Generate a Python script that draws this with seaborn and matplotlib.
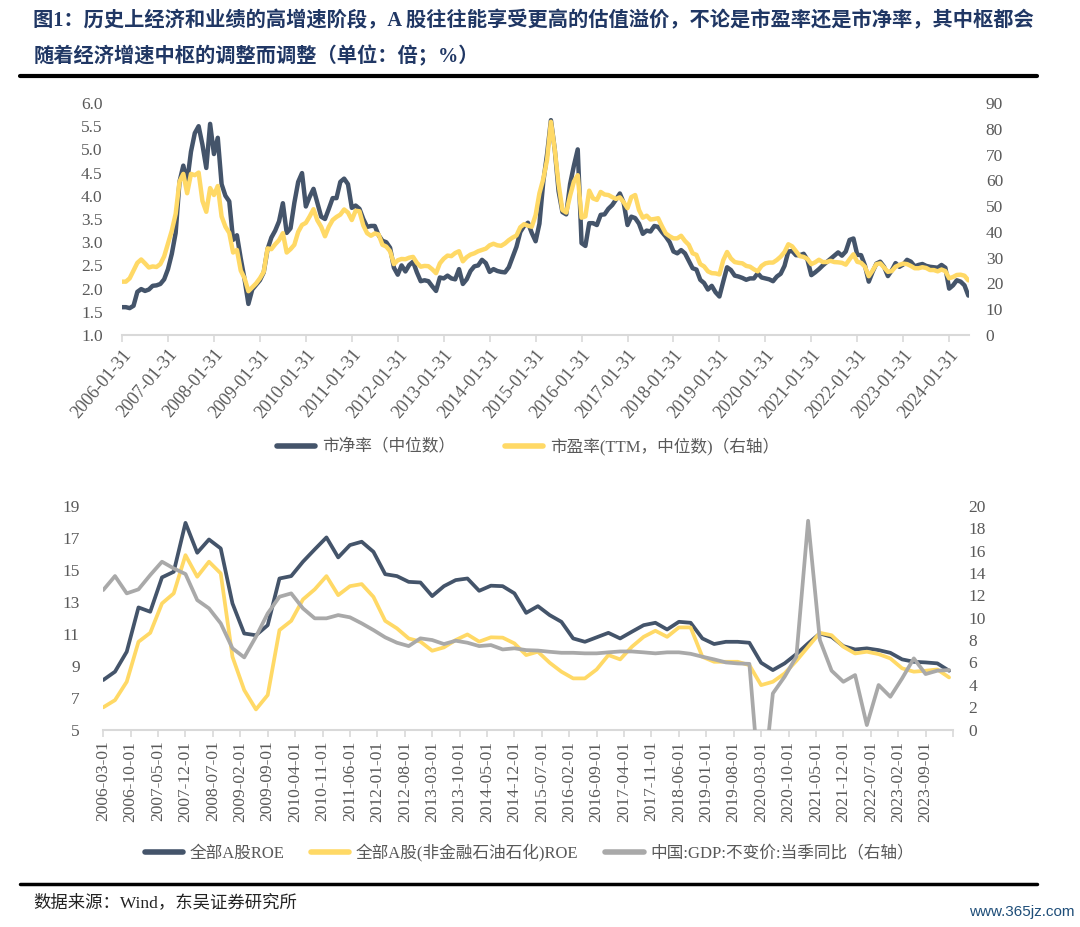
import numpy as np
import pandas as pd
import matplotlib
matplotlib.use("Agg")
import matplotlib.pyplot as plt
import seaborn as sns
from matplotlib.lines import Line2D

# --- top panel: monthly medians, 2006-01 .. 2024-06 ---
pb_median = [
    1.60, 1.60, 1.58, 1.63, 1.93, 1.99, 1.95, 1.98, 2.06, 2.07, 2.10, 2.20,
    2.42, 2.75, 3.20, 4.30, 4.65, 4.30, 4.95, 5.35, 5.50, 5.10, 4.60, 5.55,
    4.90, 5.25, 4.25, 4.00, 3.88, 3.05, 3.15, 2.65, 2.20, 1.67, 1.98, 2.08,
    2.18, 2.35, 2.85, 3.10, 3.25, 3.45, 3.84, 3.20, 3.30, 3.85, 4.30, 4.49,
    3.77, 3.98, 4.15, 3.85, 3.55, 3.50, 3.72, 3.95, 3.95, 4.30, 4.37, 4.25,
    3.74, 3.79, 3.72, 3.50, 3.33, 3.35, 3.35, 3.15, 3.03, 3.00, 2.88, 2.45,
    2.30, 2.50, 2.37, 2.51, 2.58, 2.35, 2.16, 2.18, 2.16, 2.05, 1.95, 2.24,
    2.22, 2.28, 2.22, 2.20, 2.42, 2.10, 2.20, 2.38, 2.48, 2.50, 2.62, 2.55,
    2.36, 2.42, 2.38, 2.36, 2.35, 2.46, 2.68, 2.90, 3.22, 3.35, 3.42, 3.20,
    3.02, 3.40, 4.30, 4.90, 5.63, 5.00, 4.10, 3.65, 3.60, 4.25, 4.65, 5.00,
    2.98, 2.92, 3.41, 3.41, 3.37, 3.59, 3.60, 3.72, 3.80, 3.92, 4.05, 3.85,
    3.37, 3.55, 3.52, 3.40, 3.18, 3.25, 3.23, 3.35, 3.33, 3.22, 3.12, 3.00,
    2.80, 2.76, 2.83, 2.76, 2.60, 2.44, 2.41, 2.19, 2.12, 1.98, 2.06, 1.92,
    1.83, 2.15, 2.46, 2.40, 2.28, 2.26, 2.23, 2.19, 2.22, 2.22, 2.33, 2.24,
    2.22, 2.20, 2.16, 2.26, 2.32, 2.49, 2.80, 2.81, 2.72, 2.72, 2.75, 2.62,
    2.29, 2.35, 2.42, 2.50, 2.57, 2.64, 2.71, 2.78, 2.71, 2.80, 3.05, 3.08,
    2.73, 2.72, 2.50, 2.15, 2.36, 2.54, 2.58, 2.47, 2.27, 2.39, 2.55, 2.47,
    2.52, 2.62, 2.58, 2.48, 2.51, 2.53, 2.49, 2.47, 2.46, 2.45, 2.51, 2.45,
    2.00, 2.07, 2.18, 2.15, 2.07, 1.85,
]
pe_median = [
    20.7, 20.7, 22.0, 25.0, 28.0, 29.3, 27.8, 26.2, 26.6, 26.4, 27.5, 30.5,
    35.5, 40.5, 47.0, 59.5, 62.5, 55.0, 62.5, 62.0, 63.0, 52.0, 47.8, 57.0,
    54.3, 57.8, 46.0, 42.0, 39.6, 32.0, 33.0, 25.0, 22.0, 17.0, 18.5, 20.0,
    22.0, 24.5, 33.6, 33.3, 35.2, 36.8, 39.5, 32.0, 33.3, 35.0, 40.0, 42.7,
    43.5, 46.0, 48.8, 44.5, 42.0, 38.3, 42.0, 44.6, 45.8, 46.7, 48.7, 47.5,
    44.6, 48.2, 48.0, 42.5, 39.5, 38.5, 39.4, 39.0, 35.0, 34.3, 32.5, 27.5,
    29.0, 29.5, 29.4, 30.0, 30.3, 28.0, 26.5, 26.8, 26.7, 25.5, 24.0, 27.8,
    29.6, 30.8, 30.6, 31.8, 32.5, 28.6, 30.2, 31.2, 31.7, 32.5, 33.0, 33.5,
    34.8, 35.4, 34.8, 34.6, 35.5, 36.8, 37.8, 38.6, 41.8, 43.0, 42.4, 42.0,
    46.5, 55.0, 60.5, 68.0, 82.7, 72.0, 58.5, 48.5, 47.5, 54.0, 59.5, 62.0,
    45.5, 46.0, 56.0, 53.0, 52.4, 55.5, 54.5, 54.3, 53.5, 52.8, 53.4, 51.5,
    49.2, 53.5, 54.3, 48.5, 45.5, 46.3, 44.8, 45.0, 45.3, 42.2, 39.4, 38.3,
    37.5, 37.5, 38.5, 36.5, 35.0, 31.7, 31.1, 27.5, 26.6, 24.7, 24.0, 23.9,
    23.5, 29.0, 32.2, 29.7, 28.3, 28.0, 27.8, 26.8, 26.5, 25.5, 24.7, 26.8,
    27.8, 28.1, 28.1, 29.1, 30.4, 32.2, 35.2, 34.4, 32.5, 30.6, 30.3, 29.5,
    27.5, 28.2, 29.2, 28.3, 28.3, 28.8, 28.3, 28.2, 28.0, 27.3, 29.4, 31.3,
    28.4, 28.0, 26.5, 22.8, 25.0, 27.5, 27.8, 26.2, 24.5, 24.8, 26.5, 27.2,
    27.7, 27.5, 26.8, 25.9, 25.9, 26.3, 26.0, 25.2, 25.2, 24.7, 25.4, 24.8,
    22.0, 22.5, 23.3, 23.4, 23.0, 21.2,
]
top_tick_labels = [
    "2006-01-31", "2007-01-31", "2008-01-31", "2009-01-31", "2010-01-31",
    "2011-01-31", "2012-01-31", "2013-01-31", "2014-01-31", "2015-01-31",
    "2016-01-31", "2017-01-31", "2018-01-31", "2019-01-31", "2020-01-31",
    "2021-01-31", "2022-01-31", "2023-01-31", "2024-01-31",
]

# --- bottom panel: quarterly, 2006-03 .. 2024-03 ---
roe_all = [
    8.10, 8.62, 9.87, 12.64, 12.37, 14.52, 14.87, 17.93, 16.06, 16.89, 16.33, 12.89,
    11.01, 10.90, 11.53, 14.45, 14.60, 15.50, 16.27, 17.02, 15.77, 16.54, 16.75, 16.12,
    14.72, 14.60, 14.24, 14.20, 13.35, 13.97, 14.35, 14.45, 13.68, 14.00, 13.97, 13.52,
    12.30, 12.72, 12.16, 11.74, 10.70, 10.49, 10.77, 11.05, 10.70, 11.12, 11.53, 11.68,
    11.26, 11.74, 11.68, 10.70, 10.35, 10.49, 10.49, 10.43, 9.18, 8.72, 9.14, 9.72,
    10.39, 11.01, 10.80, 10.22, 10.01, 10.08, 9.97, 9.80, 9.39, 9.24, 9.20, 9.14, 8.68,
]
roe_nonfin = [
    6.39, 6.84, 7.99, 10.49, 11.05, 12.89, 13.52, 15.91, 14.56, 15.50, 14.77, 9.55,
    7.47, 6.26, 7.16, 11.22, 11.80, 13.14, 13.77, 14.60, 13.41, 13.97, 14.10, 13.30,
    11.80, 11.33, 10.70, 10.50, 9.93, 10.14, 10.60, 10.95, 10.50, 10.77, 10.75, 10.39,
    9.66, 9.87, 9.18, 8.62, 8.20, 8.20, 8.76, 9.66, 9.39, 10.18, 10.80, 11.18,
    10.80, 11.39, 11.39, 9.55, 9.24, 9.24, 9.24, 9.03, 7.78, 7.99, 8.51, 9.30,
    10.18, 11.05, 10.90, 10.18, 9.76, 9.87, 9.72, 9.45, 8.83, 8.62, 8.68, 8.76, 8.26,
]
gdp_yoy = [
    12.47, 13.72, 12.17, 12.53, 13.81, 15.00, 14.40, 13.90, 11.57, 10.83, 9.49, 7.26,
    6.45, 8.30, 10.38, 11.87, 12.17, 10.83, 9.94, 9.94, 10.23, 10.03, 9.49, 8.89,
    8.24, 7.76, 7.46, 8.15, 8.00, 7.64, 7.94, 7.76, 7.46, 7.55, 7.16, 7.26,
    7.10, 7.06, 6.95, 6.86, 6.86, 6.81, 6.81, 6.90, 6.98, 6.98, 6.90, 6.81,
    6.90, 6.90, 6.77, 6.51, 6.27, 6.00, 5.91, 5.87, -6.80, 3.23, 4.72, 6.51,
    18.66, 8.00, 5.26, 4.27, 4.87, 0.40, 3.98, 2.93, 4.57, 6.36, 4.96, 5.26, 5.32,
]
bottom_tick_labels = [
    "2006-03-01", "2006-10-01", "2007-05-01", "2007-12-01", "2008-07-01",
    "2009-02-01", "2009-09-01", "2010-04-01", "2010-11-01", "2011-06-01",
    "2012-01-01", "2012-08-01", "2013-03-01", "2013-10-01", "2014-05-01",
    "2014-12-01", "2015-07-01", "2016-02-01", "2016-09-01", "2017-04-01",
    "2017-11-01", "2018-06-01", "2019-01-01", "2019-08-01", "2020-03-01",
    "2020-10-01", "2021-05-01", "2021-12-01", "2022-07-01", "2023-02-01",
    "2023-09-01",
]

NAVY = "#44546A"
GOLD = "#FFD966"
GREY = "#A9A9A9"
TXT = "#595959"
AXIS = "#D9D9D9"

sns.set_theme(style="white")
plt.rcParams["font.family"] = ["Liberation Serif", "Noto Sans CJK SC"]
plt.rcParams["axes.unicode_minus"] = False

top = pd.DataFrame({"month": np.arange(len(pb_median)), "pb": pb_median, "pe": pe_median})
bot = pd.DataFrame({"month": np.arange(len(roe_all)) * 3, "roe": roe_all,
                    "roe_nf": roe_nonfin, "gdp": gdp_yoy})

fig = plt.figure(figsize=(10.8, 9.27), dpi=100)


def style_pair(ax, axr, lpad, rpad):
    for a in (ax, axr):
        for s in a.spines.values():
            s.set_visible(False)
        a.set_xlabel("")
        a.set_ylabel("")
        a.grid(False)
    ax.spines["bottom"].set_visible(True)
    ax.spines["bottom"].set_color(AXIS)
    ax.spines["bottom"].set_linewidth(1.5)
    ax.tick_params(axis="y", length=0, labelcolor=TXT, labelsize=12.5, pad=lpad)
    axr.tick_params(axis="y", length=0, labelcolor=TXT, labelsize=12.5, pad=rpad)
    ax.tick_params(axis="x", bottom=True, direction="out", length=5, width=1.2,
                   color=AXIS, labelcolor=TXT, pad=3)


# ---- top chart: PB (left) & PE (right) ----
ax1 = fig.add_axes([0.1130, 0.6386, 0.7843, 0.2503])
sns.lineplot(data=top, x="month", y="pb", ax=ax1, color=NAVY, lw=3.2, legend=False)
ax1r = ax1.twinx()
sns.lineplot(data=top, x="month", y="pe", ax=ax1r, color=GOLD, lw=3.2, legend=False)
ax1.set_xlim(0, 221.2)
ax1.set_ylim(1.0, 6.0)
ax1.set_yticks(np.arange(1.0, 6.01, 0.5))
ax1.set_yticklabels([f"{v:.1f}" for v in np.arange(1.0, 6.01, 0.5)])
ax1r.set_ylim(0, 90)
ax1r.set_yticks(range(0, 91, 10))
ax1.set_xticks(np.arange(len(top_tick_labels)) * 12)
ax1.set_xticklabels(top_tick_labels, rotation=50, ha="right", va="top",
                    rotation_mode="anchor", fontsize=13)
style_pair(ax1, ax1r, 14, 12)

# ---- bottom chart: ROE (left) & GDP (right) ----
ax2 = fig.add_axes([0.0956, 0.2130, 0.7868, 0.2414])
sns.lineplot(data=bot, x="month", y="roe", ax=ax2, color=NAVY, lw=2.7, legend=False)
sns.lineplot(data=bot, x="month", y="roe_nf", ax=ax2, color=GOLD, lw=2.7, legend=False)
ax2r = ax2.twinx()
sns.lineplot(data=bot, x="month", y="gdp", ax=ax2r, color=GREY, lw=2.7, legend=False)
ax2.set_xlim(0, 217)
ax2.set_ylim(5, 19)
ax2.set_yticks(range(5, 20, 2))
ax2r.set_ylim(0, 20)
ax2r.set_yticks(range(0, 21, 2))
ax2.set_xticks(np.arange(len(bottom_tick_labels) + 1) * 7)
ax2.set_xticklabels(bottom_tick_labels + [""], rotation=90, ha="center", va="top",
                    fontsize=12.5)
style_pair(ax2, ax2r, 17, 11)

# ---- legends ----
leg_kw = dict(frameon=False, fontsize=12, handlelength=2.3, handletextpad=0.4,
              labelcolor=TXT, loc="center")
fig.legend([Line2D([], [], color=NAVY, lw=4), Line2D([], [], color=GOLD, lw=4)],
           ["市净率（中位数）", "市盈率(TTM，中位数)（右轴）"],
           ncol=2, columnspacing=3.0, bbox_to_anchor=(0.489, 0.518), **leg_kw)
fig.legend([Line2D([], [], color=NAVY, lw=4), Line2D([], [], color=GOLD, lw=4),
            Line2D([], [], color=GREY, lw=4)],
           ["全部A股ROE", "全部A股(非金融石油石化)ROE", "中国:GDP:不变价:当季同比（右轴）"],
           ncol=3, columnspacing=1.6, bbox_to_anchor=(0.49, 0.080), **leg_kw)

# ---- title, rules, source ----
title_c = "#203764"
fig.text(0.031, 1 - 21 / 927,
         "图1：历史上经济和业绩的高增速阶段，A 股往往能享受更高的估值溢价，不论是市盈率还是市净率，其中枢都会",
         fontsize=14.6, fontweight="bold", color=title_c, va="center", ha="left")
fig.text(0.031, 1 - 57 / 927, "随着经济增速中枢的调整而调整（单位：倍；%）",
         fontsize=14.6, fontweight="bold", color=title_c, va="center", ha="left")
fig.add_artist(Line2D([0.0185, 0.960], [1 - 76 / 927] * 2, color="black", lw=3))
fig.add_artist(Line2D([0.0185, 0.960], [1 - 884 / 927] * 2, color="black", lw=2.5))
fig.text(0.031, 1 - 903 / 927, "数据来源：Wind，东吴证券研究所", fontsize=12.5,
         color="#222222", va="center", ha="left")
fig.text(0.995, 1 - 912 / 927, "www.365jz.com", fontsize=11, color="#1F4E79",
         va="center", ha="right", family=["Liberation Sans"])

fig.savefig("out.png", dpi=100)
